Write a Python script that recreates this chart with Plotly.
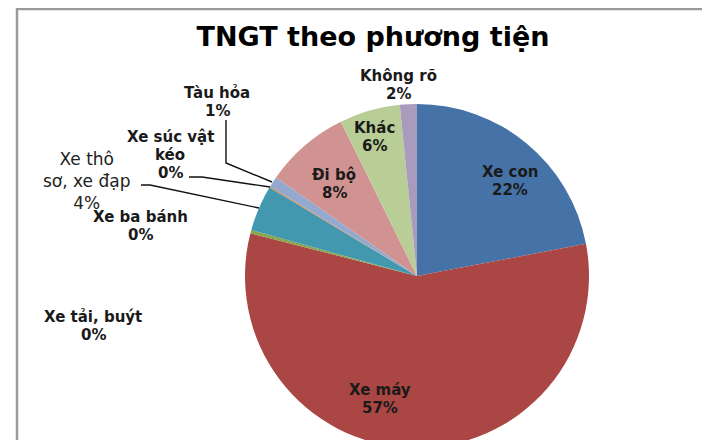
import plotly.graph_objects as go

# ---- data ----
categories = ["Xe con", "Xe máy", "Xe tải, buýt", "Xe ba bánh", "Xe thô sơ, xe đạp",
              "Xe súc vật kéo", "Tàu hỏa", "Đi bộ", "Khác", "Không rõ"]
values = [22.0, 57.0, 0.3, 0.0, 4.3, 0.1, 1.0, 8.0, 5.7, 1.6]
colors = ["#4572A7", "#AA4643", "#89A54E", "#71588F", "#4198AF",
          "#DB843D", "#93A9CF", "#D19392", "#B9CD96", "#A99BBD"]
title_text = "TNGT theo phương tiện"

# how long labels wrap (text only)
label_wrap = {"Xe thô sơ, xe đạp": ["Xe thô", "sơ, xe đạp"],
              "Xe súc vật kéo": ["Xe súc vật", "kéo"]}

# ---- layout constants (screen pixels in the 710x440 window) ----
W, H = 710, 440
OFF = 8  # page body margin
CX, CY, R = 417, 276, 172
label_pos = {  # center x, first-line center y, line step, font size, bold
    "Xe con": (510, 172, 18, 15, True),
    "Xe máy": (380, 390, 17.5, 15, True),
    "Xe tải, buýt": (93, 317, 17.5, 15, True),
    "Xe ba bánh": (140, 217, 18, 15, True),
    "Xe súc vật kéo": (170, 137, 18, 15, True),
    "Tàu hỏa": (217, 93, 18, 15, True),
    "Đi bộ": (334, 175, 17.5, 15, True),
    "Khác": (374, 128, 18, 15, True),
    "Không rõ": (398, 76, 18, 15, True),
}
block_pos = {  # single multi-line block labels: center x, center y, font size
    "Xe thô sơ, xe đạp": (86, 181, 17),
}
leaders = [
    [(141, 185), (150, 185), (259, 208)],
    [(189, 177), (202, 177), (270, 187)],
    [(226, 120), (226, 163), (272, 182)],
]


def px(x, y):
    return (x - OFF) / W, 1 - (y - OFF) / H


fig = go.Figure()
fig.add_trace(go.Pie(
    labels=categories, values=values, sort=False, direction="clockwise", rotation=0,
    marker=dict(colors=colors, line=dict(width=0)),
    textinfo="none", hoverinfo="label+percent", showlegend=False,
    domain=dict(x=[(CX - R - OFF) / W, (CX + R - OFF) / W],
                y=[max(0, 1 - (CY + R - OFF) / H), 1 - (CY - R - OFF) / H]),
))

total = sum(values)
annotations = []
for cat, v in zip(categories, values):
    lines = list(label_wrap.get(cat, [cat])) + [f"{round(v / total * 100)}%"]
    if cat in block_pos:
        x, y, size = block_pos[cat]
        ax, ay = px(x, y)
        annotations.append(dict(
            x=ax, y=ay, xref="paper", yref="paper", xanchor="center", yanchor="middle",
            text="<br>".join(lines), showarrow=False, align="center",
            font=dict(family="DejaVu Sans", size=size, color="#222222"),
        ))
        continue
    x, y0, step, size, bold = label_pos[cat]
    for i, t in enumerate(lines):
        ax, ay = px(x, y0 + i * step)
        annotations.append(dict(
            x=ax, y=ay, xref="paper", yref="paper", xanchor="center", yanchor="middle",
            text=t, showarrow=False,
            font=dict(family="DejaVu Sans", size=size, color="#1a1a1a", weight="bold"),
        ))

shapes = []
for path_pts in leaders:
    p = " ".join(("M" if i == 0 else "L") + " {:.5f},{:.5f}".format(*px(a, b))
                 for i, (a, b) in enumerate(path_pts))
    shapes.append(dict(type="path", path=p, xref="paper", yref="paper",
                       line=dict(color="#111111", width=1.4)))
# chart frame (top and left edges visible)
fx0, fy0 = px(17, 9)
shapes.append(dict(type="path", xref="paper", yref="paper",
                   path=f"M {fx0:.5f},0 L {fx0:.5f},{fy0:.5f} L 1,{fy0:.5f}",
                   line=dict(color="#9a9a9a", width=2.5)))

tx, ty = px(373, 37)
fig.update_layout(
    width=W, height=H, margin=dict(l=0, r=0, t=0, b=0),
    paper_bgcolor="white", plot_bgcolor="white",
    title=dict(text=title_text, x=tx, xanchor="center", y=ty, yanchor="middle",
               font=dict(family="DejaVu Sans", size=27, color="#000000", weight="bold")),
    annotations=annotations, shapes=shapes,
)

fig.write_html("out.html")
